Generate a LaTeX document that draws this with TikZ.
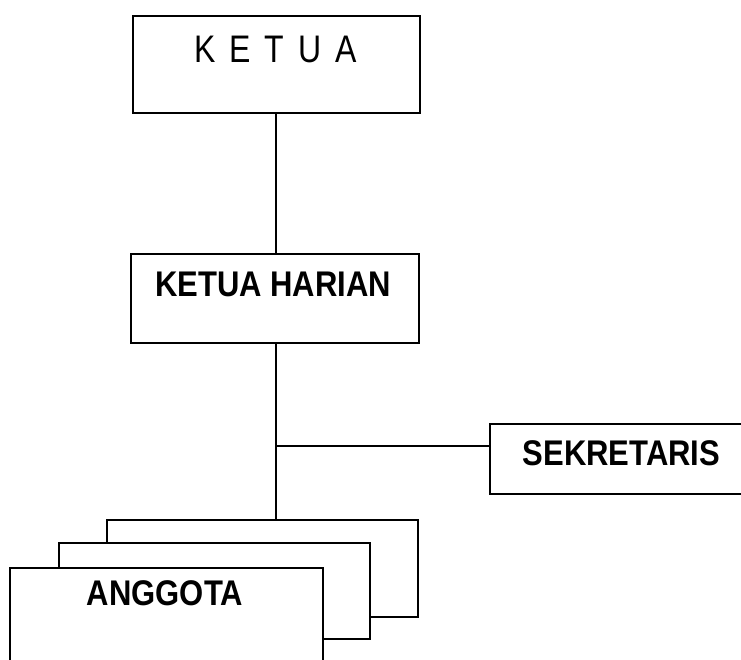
\documentclass[tikz,border=0pt]{standalone}
\usepackage{fontspec}
\setmainfont{Liberation Sans}
\newcommand{\tallbold}[1]{\scalebox{1}[1.15]{\fontsize{31}{31}\selectfont\bfseries #1}}
\begin{document}
\begin{tikzpicture}[x=1pt,y=-1pt,
  box/.style={draw=black, line width=2pt, fill=white, rectangle, inner sep=0pt, anchor=north west},
  lbl/.style={anchor=base, inner sep=0pt},
  conn/.style={draw=black, line width=2pt}]
\useasboundingbox (0,0) rectangle (741,659);
\clip (0,0) rectangle (741,659);
% boxes
\node[box, minimum width=287pt, minimum height=97pt] (ketua) at (132,15) {};
\node[box, minimum width=288pt, minimum height=89pt] (harian) at (130,253) {};
\node[box, minimum width=280pt, minimum height=70pt] (sek) at (489,423) {};
\node[box, minimum width=311pt, minimum height=97pt] (back) at (106,519) {};
\node[box, minimum width=311pt, minimum height=96pt] (mid) at (58,542) {};
\node[box, minimum width=313pt, minimum height=120pt] (front) at (9,567) {};
% texts
\node[lbl] (tketua) at (275.5,62) {\scalebox{1}[1.2]{\fontsize{32}{32}\selectfont K\kern14pt E\kern14pt T\kern14pt U\kern14pt A}};
\node[lbl] (tharian) at (273,296) {\tallbold{KETUA HARIAN}};
\node[lbl] (tsek) at (621.5,465) {\tallbold{SEKRETARIS}};
\node[lbl] (tang) at (165,605) {\tallbold{ANGGOTA}};
% connectors
\coordinate (top) at (276,112);
\coordinate (hb) at (276,342);
\coordinate (j) at (276,446);
\draw[conn] (top) -- (top |- harian.north);
\draw[conn] (hb) -- (hb |- back.north);
\draw[conn] (j) -- (j -| sek.west);
\end{tikzpicture}
\end{document}
